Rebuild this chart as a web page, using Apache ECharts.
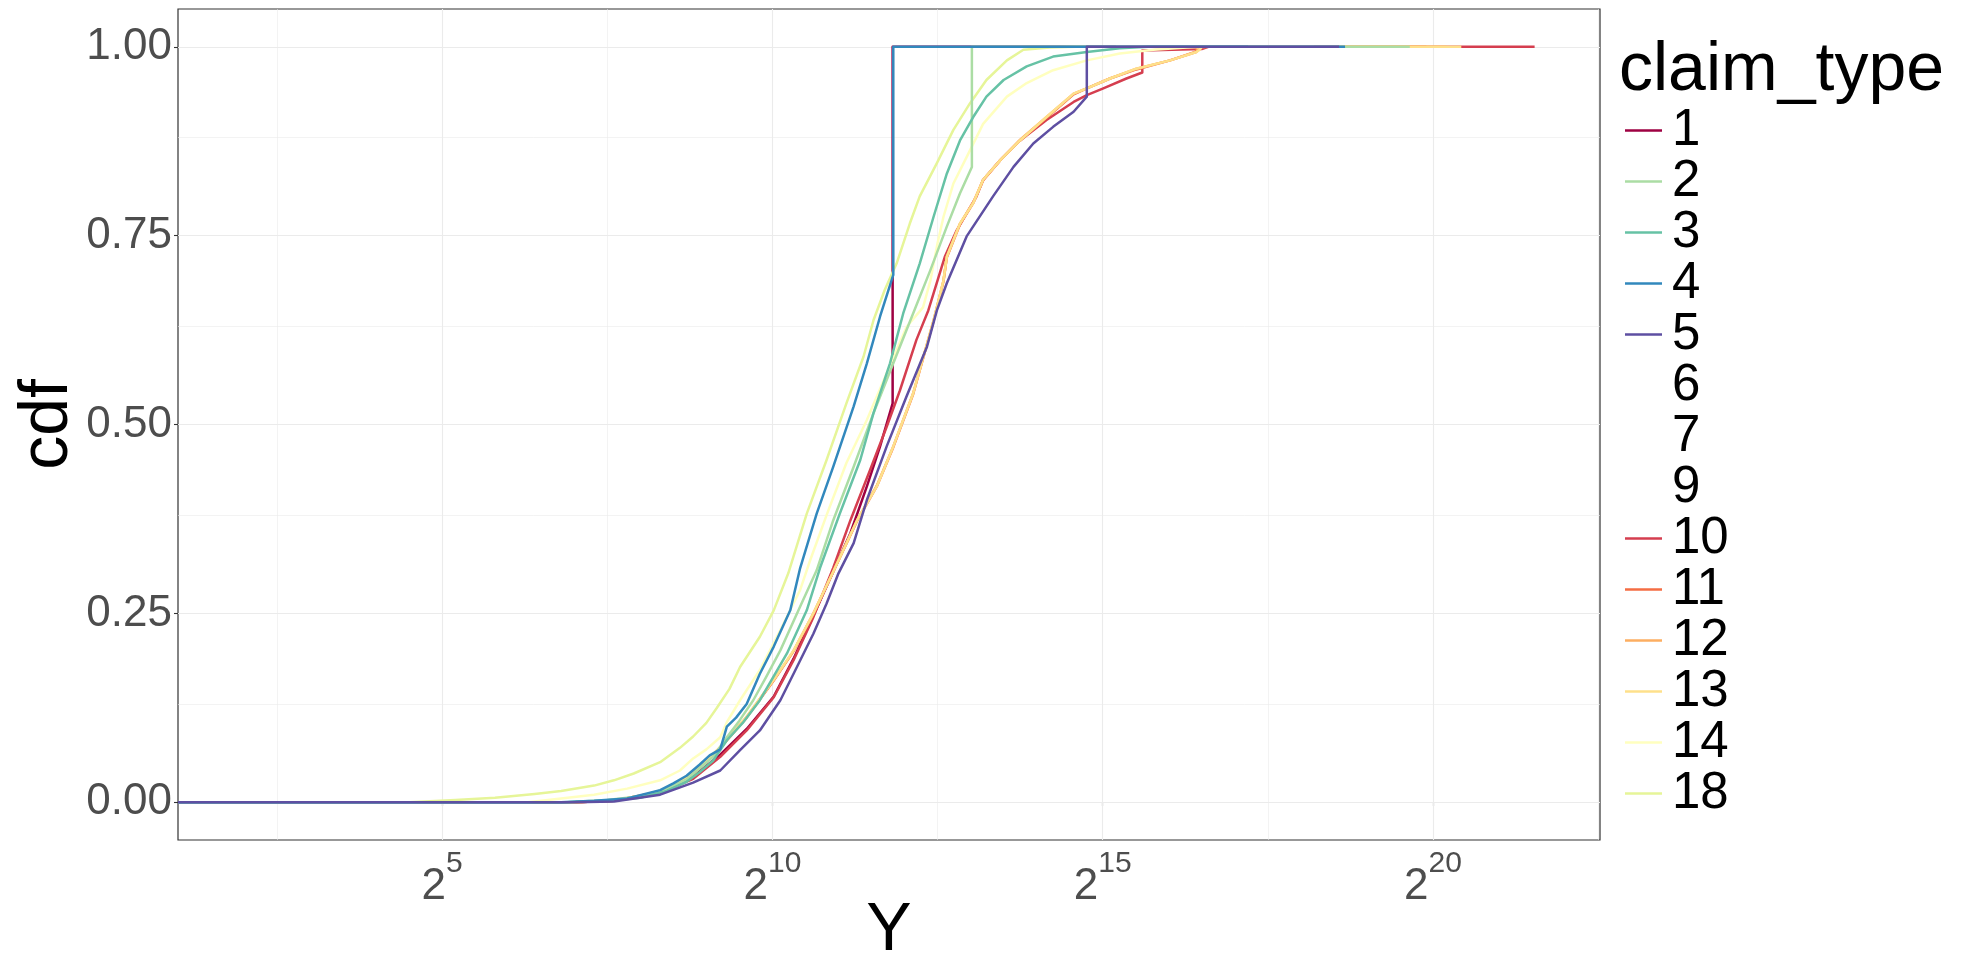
<!DOCTYPE html>
<html>
<head>
<meta charset="utf-8">
<title>ECDF of claim size by claim type</title>
<script src="https://cdn.jsdelivr.net/npm/echarts@6/dist/echarts.min.js"></script>
<style>
  html, body { margin: 0; padding: 0; background: #ffffff; }
  #chart { width: 1964px; height: 960px; }
</style>
</head>
<body>
<div id="chart"></div>
<script>
// Empirical CDF of claim size Y for each claim type.
// Each point is [log2(Y), cdf]; the x axis is drawn on a log2 scale.

const claimTypes = ['1', '2', '3', '4', '5', '6', '7', '9', '10', '11', '12', '13', '14', '18'];
// ggplot draws the groups in string-sorted level order
const drawOrder = ['1', '10', '11', '12', '13', '14', '18', '2', '3', '4', '5', '6', '7', '9'];

const xRange = [1, 22.53];
const yRange = [-0.05, 1.05];
const xBreaks = [5, 10, 15, 20];
const xMinorBreaks = [2.5, 7.5, 12.5, 17.5, 22.5];
const yBreaks = [0, 0.25, 0.5, 0.75, 1];
const yMinorBreaks = [0.125, 0.375, 0.625, 0.875];

const ecdf1 = [[1, 0], [7.0, 0], [7.6, 0.002], [8.3, 0.013], [8.8, 0.034], [9.21, 0.063], [9.61, 0.097], [10.02, 0.14], [10.32, 0.19], [10.62, 0.247], [10.92, 0.305], [11.18, 0.356], [11.43, 0.418], [11.63, 0.471], [11.82, 0.528], [11.82, 1], [15.2, 1]];

const ecdf2 = [[1, 0], [6.9, 0], [7.5, 0.003], [8.0, 0.008], [8.4, 0.018], [8.7, 0.03], [8.9, 0.045], [9.1, 0.06], [9.31, 0.086], [9.5, 0.108], [9.71, 0.135], [9.9, 0.165], [10.12, 0.201], [10.42, 0.259], [10.67, 0.307], [10.92, 0.373], [11.23, 0.444], [11.53, 0.515], [11.83, 0.581], [12.13, 0.647], [12.39, 0.704], [12.64, 0.762], [12.84, 0.806], [13.02, 0.841], [13.02, 1], [19.65, 1]];

const ecdf3 = [[1, 0], [6.9, 0], [7.5, 0.002], [8.0, 0.006], [8.4, 0.015], [8.7, 0.027], [8.9, 0.04], [9.1, 0.055], [9.31, 0.082], [9.55, 0.105], [9.81, 0.135], [10.22, 0.197], [10.52, 0.254], [10.72, 0.31], [11.02, 0.382], [11.33, 0.453], [11.53, 0.515], [11.78, 0.581], [11.98, 0.647], [12.23, 0.713], [12.44, 0.775], [12.64, 0.832], [12.84, 0.876], [13.04, 0.907], [13.24, 0.934], [13.5, 0.956], [13.85, 0.974], [14.25, 0.987], [14.76, 0.993], [15.26, 0.998], [15.69, 1], [17.2, 1]];

const ecdf4 = [[1, 0], [6.8, 0], [7.3, 0.002], [7.8, 0.005], [8.3, 0.016], [8.5, 0.025], [8.7, 0.035], [8.9, 0.05], [9.05, 0.062], [9.21, 0.07], [9.31, 0.1], [9.45, 0.112], [9.61, 0.13], [9.81, 0.17], [10.02, 0.206], [10.27, 0.254], [10.42, 0.31], [10.67, 0.382], [10.92, 0.444], [11.23, 0.524], [11.43, 0.581], [11.63, 0.643], [11.83, 0.698], [11.83, 1], [18.67, 1]];

const ecdf5 = [[1, 0], [7.0, 0], [7.6, 0.001], [8.3, 0.01], [8.8, 0.026], [9.21, 0.042], [9.51, 0.069], [9.81, 0.095], [10.12, 0.135], [10.32, 0.17], [10.62, 0.223], [10.82, 0.263], [11.0, 0.303], [11.23, 0.343], [11.43, 0.4], [11.73, 0.471], [12.03, 0.537], [12.34, 0.603], [12.49, 0.651], [12.64, 0.687], [12.94, 0.749], [13.34, 0.802], [13.65, 0.841], [13.95, 0.872], [14.25, 0.894], [14.56, 0.914], [14.76, 0.934], [14.76, 1], [18.58, 1]];

const ecdf10 = [[1, 0], [7.0, 0], [7.6, 0.002], [8.3, 0.012], [8.8, 0.031], [9.21, 0.06], [9.61, 0.095], [10.02, 0.139], [10.32, 0.188], [10.62, 0.245], [10.92, 0.31], [11.18, 0.373], [11.48, 0.44], [11.73, 0.497], [11.93, 0.545], [12.18, 0.612], [12.36, 0.651], [12.61, 0.722], [12.79, 0.757], [13.09, 0.802], [13.19, 0.824], [13.45, 0.85], [13.75, 0.876], [14.15, 0.903], [14.56, 0.927], [14.76, 0.936], [15.01, 0.945], [15.36, 0.958], [15.6, 0.966], [15.6, 0.995], [16.5, 0.997], [16.6, 1], [21.54, 1]];

const ecdf11 = [[1, 0], [7.0, 0], [7.6, 0.002], [8.3, 0.014], [8.8, 0.037], [9.21, 0.072], [9.61, 0.112], [10.02, 0.161], [10.32, 0.2], [10.62, 0.249], [10.92, 0.305], [11.28, 0.372], [11.58, 0.418], [11.83, 0.47], [12.13, 0.54], [12.44, 0.637], [12.59, 0.69], [12.64, 0.721], [12.84, 0.765], [13.04, 0.793], [13.19, 0.823], [13.45, 0.85], [13.75, 0.876], [14.15, 0.906], [14.56, 0.937], [14.76, 0.945], [15.11, 0.958], [15.51, 0.97], [16.02, 0.982], [16.4, 0.993], [16.45, 1], [19.9, 1]];

const ecdf12 = [[1, 0], [7.0, 0], [7.6, 0.002], [8.3, 0.014], [8.8, 0.038], [9.21, 0.073], [9.61, 0.113], [10.02, 0.162], [10.32, 0.2], [10.62, 0.25], [10.92, 0.305], [11.28, 0.373], [11.58, 0.419], [11.83, 0.471], [12.13, 0.541], [12.44, 0.638], [12.59, 0.69], [12.64, 0.722], [12.84, 0.766], [13.04, 0.794], [13.19, 0.824], [13.45, 0.85], [13.75, 0.877], [14.15, 0.907], [14.56, 0.938], [14.76, 0.945], [15.11, 0.958], [15.51, 0.971], [16.02, 0.982], [16.42, 0.993], [16.46, 1], [20.2, 1]];

const ecdf13 = [[1, 0], [7.0, 0], [7.6, 0.002], [8.3, 0.014], [8.8, 0.038], [9.21, 0.073], [9.61, 0.113], [10.02, 0.162], [10.32, 0.201], [10.62, 0.25], [10.92, 0.305], [11.28, 0.373], [11.58, 0.418], [11.83, 0.471], [12.13, 0.541], [12.44, 0.638], [12.59, 0.691], [12.64, 0.722], [12.84, 0.766], [13.04, 0.793], [13.19, 0.824], [13.45, 0.85], [13.75, 0.876], [14.15, 0.907], [14.56, 0.938], [14.76, 0.945], [15.11, 0.958], [15.51, 0.971], [16.02, 0.982], [16.42, 0.993], [16.47, 0.996], [16.5, 1], [20.43, 1]];

const ecdf14 = [[1, 0], [6.3, 0], [6.8, 0.005], [7.3, 0.01], [7.8, 0.018], [8.3, 0.029], [8.6, 0.042], [8.8, 0.058], [9.0, 0.07], [9.21, 0.086], [9.31, 0.106], [9.51, 0.135], [9.81, 0.175], [10.12, 0.228], [10.42, 0.281], [10.57, 0.32], [10.82, 0.38], [11.12, 0.449], [11.43, 0.506], [11.73, 0.568], [12.03, 0.629], [12.28, 0.655], [12.39, 0.69], [12.5, 0.74], [12.59, 0.775], [12.74, 0.819], [12.94, 0.854], [13.19, 0.898], [13.55, 0.934], [13.85, 0.952], [14.25, 0.969], [14.76, 0.982], [15.26, 0.991], [15.77, 0.996], [16.27, 0.999], [16.6, 1], [18.2, 1]];

const ecdf18 = [[1, 0], [4.5, 0], [5.2, 0.003], [5.8, 0.006], [6.4, 0.011], [6.8, 0.015], [7.3, 0.022], [7.6, 0.029], [7.9, 0.038], [8.3, 0.053], [8.6, 0.072], [8.8, 0.087], [9.0, 0.105], [9.16, 0.125], [9.35, 0.15], [9.51, 0.179], [9.81, 0.219], [10.02, 0.254], [10.24, 0.303], [10.52, 0.382], [10.82, 0.453], [11.12, 0.528], [11.38, 0.59], [11.53, 0.638], [11.7, 0.678], [11.88, 0.713], [12.08, 0.766], [12.23, 0.802], [12.49, 0.846], [12.74, 0.89], [12.99, 0.925], [13.24, 0.956], [13.55, 0.982], [13.8, 0.996], [14.2, 0.999], [14.6, 1], [17.5, 1]];

// Claim types 6, 7 and 9 fall outside the 11-colour Spectral palette and draw nothing
const ecdfByType = {
  '1': ecdf1, '2': ecdf2, '3': ecdf3, '4': ecdf4, '5': ecdf5,
  '6': [], '7': [], '9': [],
  '10': ecdf10, '11': ecdf11, '12': ecdf12, '13': ecdf13, '14': ecdf14, '18': ecdf18
};

// Spectral palette assigned in string-sorted level order
const typeColours = {
  '1': '#9E0142', '10': '#D53E4F', '11': '#F46D43', '12': '#FDAE61', '13': '#FEE08B',
  '14': '#FFFFBF', '18': '#E6F598', '2': '#ABDDA4', '3': '#66C2A5', '4': '#3288BD',
  '5': '#5E4FA2', '6': 'rgba(0,0,0,0)', '7': 'rgba(0,0,0,0)', '9': 'rgba(0,0,0,0)'
};

const FONT = '"Liberation Sans", Arial, Helvetica, sans-serif';
const GRID_COLOUR = '#EBEBEB';

const gridLines = [
  ...xBreaks.map(v => ({ xAxis: v, lineStyle: { width: 1.1 } })),
  ...xMinorBreaks.map(v => ({ xAxis: v, lineStyle: { width: 0.6 } })),
  ...yBreaks.map(v => ({ yAxis: v, lineStyle: { width: 1.1 } })),
  ...yMinorBreaks.map(v => ({ yAxis: v, lineStyle: { width: 0.6 } }))
];

const curveSeries = drawOrder.map(t => ({
  name: t,
  type: 'line',
  data: ecdfByType[t],
  symbol: 'none',
  showSymbol: false,
  silent: true,
  animation: false,
  z: 2,
  lineStyle: { width: 2.5, color: typeColours[t], cap: 'butt', join: 'round' },
  itemStyle: { color: typeColours[t] }
}));

const panelGrid = {
  name: 'panel-grid',
  type: 'line',
  data: [],
  silent: true,
  animation: false,
  z: 1,
  markLine: {
    silent: true,
    animation: false,
    symbol: ['none', 'none'],
    z: 1,
    label: { show: false },
    emphasis: { disabled: true },
    lineStyle: { color: GRID_COLOUR, type: 'solid', width: 1.1 },
    data: gridLines
  }
};

const chart = echarts.init(document.getElementById('chart'), null, { renderer: 'canvas' });

chart.setOption({
  backgroundColor: '#ffffff',
  animation: false,
  title: {
    text: 'claim_type',
    left: 1619,
    top: 37,
    padding: 0,
    textStyle: { fontFamily: FONT, fontSize: 68, fontWeight: 'normal', color: '#000000', lineHeight: 68 }
  },
  legend: {
    data: claimTypes,
    orient: 'vertical',
    left: 1625,
    top: 105,
    padding: 0,
    itemGap: 0,
    itemWidth: 37,
    itemHeight: 2.5,
    icon: 'rect',
    selectedMode: false,
    textStyle: { fontFamily: FONT, fontSize: 51, color: '#000000', lineHeight: 50.65, padding: [0, 0, 0, 5] }
  },
  grid: {
    left: 178,
    top: 9,
    width: 1422,
    height: 831,
    outerBoundsMode: 'none',
    containLabel: false,
    show: true,
    backgroundColor: '#ffffff',
    borderColor: '#333333',
    borderWidth: 1.2
  },
  xAxis: {
    type: 'value',
    min: xRange[0],
    max: xRange[1],
    axisLine: { show: false },
    splitLine: { show: false },
    axisTick: { show: true, customValues: xBreaks, length: 4, lineStyle: { color: '#333333', width: 1.1 } },
    axisLabel: {
      customValues: xBreaks,
      margin: 9,
      formatter: v => `{b|2}{s|${v}}`,
      rich: {
        b: { fontFamily: FONT, fontSize: 44, color: '#4D4D4D', lineHeight: 60, verticalAlign: 'bottom' },
        s: { fontFamily: FONT, fontSize: 30, color: '#4D4D4D', lineHeight: 22, verticalAlign: 'top' }
      }
    },
    name: 'Y',
    nameLocation: 'middle',
    nameGap: 57,
    nameMoveOverlap: false,
    nameTextStyle: { fontFamily: FONT, fontSize: 68, color: '#000000', lineHeight: 68 }
  },
  yAxis: {
    type: 'value',
    min: yRange[0],
    max: yRange[1],
    axisLine: { show: false },
    splitLine: { show: false },
    axisTick: { show: true, customValues: yBreaks, length: 4, lineStyle: { color: '#333333', width: 1.1 } },
    axisLabel: {
      customValues: yBreaks,
      margin: 6,
      formatter: v => v.toFixed(2),
      fontFamily: FONT,
      fontSize: 44,
      color: '#4D4D4D'
    },
    name: 'cdf',
    nameLocation: 'middle',
    nameRotate: 90,
    nameGap: 96,
    nameMoveOverlap: false,
    nameTextStyle: { fontFamily: FONT, fontSize: 68, color: '#000000', lineHeight: 68 }
  },
  series: [panelGrid, ...curveSeries]
});
</script>
</body>
</html>
